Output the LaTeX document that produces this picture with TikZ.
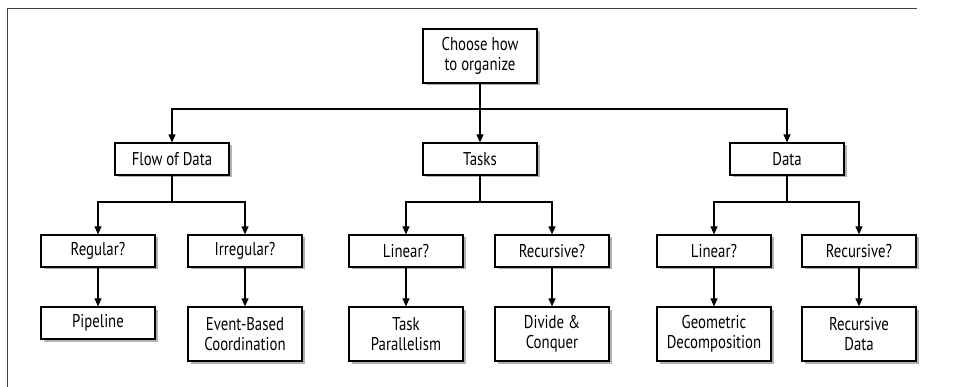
\documentclass[tikz,border=0pt]{standalone}
\usepackage{fontspec}
\setmainfont[FakeStretch=0.8]{PT Sans}
\usetikzlibrary{arrows.meta,shadows}
\begin{document}
\begin{tikzpicture}[x=1pt,y=-1pt,
  every node/.style={font=\fontsize{18.5}{20.5}\selectfont},
  box/.style={draw,line width=1.2pt,fill=white,minimum width=114pt,minimum height=32pt,
    inner sep=0pt,align=center,drop shadow={shadow xshift=2.5pt,shadow yshift=-2.5pt,fill=black!60}},
  tall/.style={box,minimum height=54pt},
  arr/.style={line width=1.1pt,-{Triangle[length=8pt,width=7pt]}}]
\useasboundingbox (0,0) rectangle (958,387);
\draw[line width=1pt,black!75] (7,387) -- (7,9) -- (917,9);
% top
\node[tall] (root) at (480,56) {Choose how\\to organize};
\node[box] (flow) at (172,159) {Flow of Data};
\node[box] (tasks) at (480,159) {Tasks};
\node[box] (data) at (787,159) {Data};
% questions
\node[box] (regular) at (98,251) {Regular?};
\node[box] (irregular) at (245,251) {Irregular?};
\node[box] (tlinear) at (406,251) {Linear?};
\node[box] (trecursive) at (552,251) {Recursive?};
\node[box] (dlinear) at (714,251) {Linear?};
\node[box] (drecursive) at (859,251) {Recursive?};
% patterns
\node[box] (pipeline) at (98,323) {Pipeline};
\node[tall] (event) at (245,334) {Event-Based\\Coordination};
\node[tall] (taskpar) at (406,334) {Task\\Parallelism};
\node[tall] (divide) at (552,334) {Divide \&\\Conquer};
\node[tall] (geometric) at (714,334) {Geometric\\Decomposition};
\node[tall] (recdata) at (859,334) {Recursive\\Data};
% connectors
\coordinate (b0) at (480,109);
\coordinate (b1) at (172,202);
\coordinate (b2) at (480,202);
\coordinate (b3) at (787,202);
\draw[arr] (root) -- (tasks);
\draw[arr] (b0) -| (flow.north);
\draw[arr] (b0) -| (data.north);
\draw[line width=1.1pt] (flow.south) -- (b1);
\draw[arr] (b1) -| (regular.north);
\draw[arr] (b1) -| (irregular.north);
\draw[line width=1.1pt] (tasks.south) -- (b2);
\draw[arr] (b2) -| (tlinear.north);
\draw[arr] (b2) -| (trecursive.north);
\draw[line width=1.1pt] (data.south) -- (b3);
\draw[arr] (b3) -| (dlinear.north);
\draw[arr] (b3) -| (drecursive.north);
\draw[arr] (regular) -- (pipeline);
\draw[arr] (irregular) -- (event);
\draw[arr] (tlinear) -- (taskpar);
\draw[arr] (trecursive) -- (divide);
\draw[arr] (dlinear) -- (geometric);
\draw[arr] (drecursive) -- (recdata);
\end{tikzpicture}
\end{document}
